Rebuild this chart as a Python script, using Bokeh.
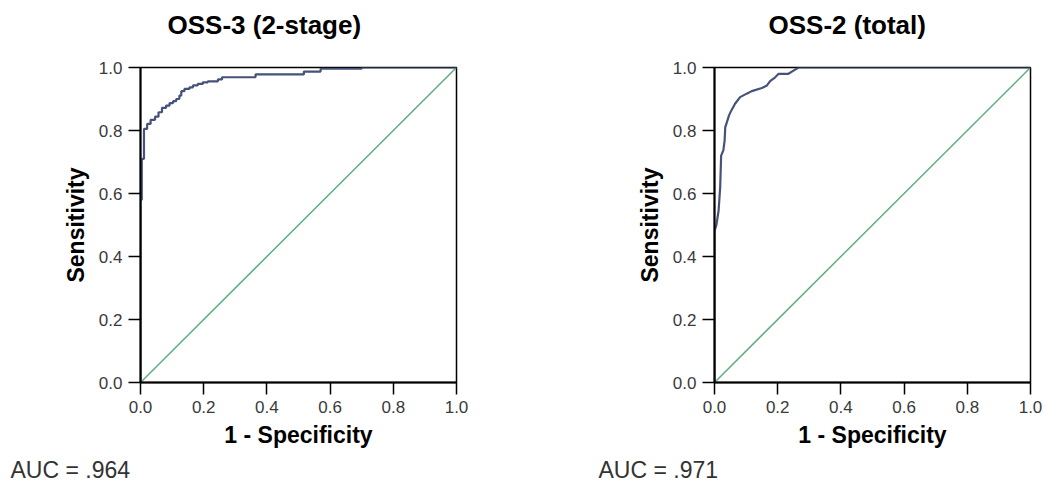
from bokeh.plotting import figure
from bokeh.layouts import row
from bokeh.models import FixedTicker, Range1d, Title
from bokeh.embed import file_html
from bokeh.resources import INLINE

# ---------------- data ----------------
titles = ["OSS-3 (2-stage)", "OSS-2 (total)"]
auc_labels = ["AUC = .964", "AUC = .971"]

tick_values = [0.0, 0.2, 0.4, 0.6, 0.8, 1.0]
tick_labels = ["0.0", "0.2", "0.4", "0.6", "0.8", "1.0"]

# OSS-3 (2-stage) ROC curve vertices
fpr_oss3 = [0.0, 0.0, 0.004, 0.004, 0.011, 0.011, 0.021, 0.021, 0.032, 0.032,
            0.046, 0.046, 0.057, 0.057, 0.068, 0.068, 0.081, 0.081, 0.092, 0.092,
            0.103, 0.103, 0.113, 0.113, 0.123, 0.123, 0.129, 0.129, 0.139, 0.139,
            0.155, 0.155, 0.166, 0.166, 0.181, 0.181, 0.197, 0.197, 0.213, 0.213,
            0.245, 0.245, 0.258, 0.258, 0.364, 0.364, 0.517, 0.517, 0.57, 0.57,
            0.70, 0.70, 1.0]
tpr_oss3 = [0.0, 0.58, 0.58, 0.71, 0.71, 0.805, 0.805, 0.821, 0.821, 0.834,
            0.834, 0.844, 0.844, 0.858, 0.858, 0.872, 0.872, 0.879, 0.879, 0.887,
            0.887, 0.893, 0.893, 0.900, 0.900, 0.911, 0.911, 0.925, 0.925, 0.932,
            0.932, 0.937, 0.937, 0.943, 0.943, 0.948, 0.948, 0.953, 0.953, 0.956,
            0.956, 0.962, 0.962, 0.969, 0.969, 0.978, 0.978, 0.987, 0.987, 0.996,
            0.996, 1.0, 1.0]

# OSS-2 (total) ROC curve vertices
fpr_oss2 = [0.0, 0.0, 0.006, 0.013, 0.018, 0.021, 0.028, 0.032, 0.034, 0.039,
            0.046, 0.053, 0.065, 0.081, 0.102, 0.118, 0.150, 0.166, 0.176, 0.192,
            0.203, 0.234, 0.250, 0.266, 1.0]
tpr_oss2 = [0.0, 0.48, 0.50, 0.546, 0.62, 0.72, 0.737, 0.768, 0.81, 0.826,
            0.848, 0.863, 0.885, 0.906, 0.917, 0.925, 0.935, 0.943, 0.957, 0.969,
            0.980, 0.980, 0.990, 1.0, 1.0]

ref_line = [0.0, 1.0]

curves = [(fpr_oss3, tpr_oss3), (fpr_oss2, tpr_oss2)]

# ---------------- styling ----------------
FONT = "Liberation Sans"
CURVE_COLOR = "#46527a"
REF_COLOR = "#5fae7f"


def make_panel(title, fpr, tpr, auc, border_left, border_right, title_offset, auc_offset):
    p = figure(width=523, height=491, output_backend="svg", toolbar_location=None,
               x_range=Range1d(0, 1), y_range=Range1d(0, 1),
               min_border_left=border_left, min_border_right=border_right,
               min_border_top=67, min_border_bottom=109,
               background_fill_color="white", border_fill_color="white")
    p.outline_line_color = "black"
    p.outline_line_width = 1.5
    p.grid.visible = False

    p.title.text = title
    p.title.align = "left"
    p.title.offset = title_offset
    p.title.text_font = FONT
    p.title.text_font_size = "26px"
    p.title.text_font_style = "bold"
    p.title.text_color = "black"

    # empty spacer between the frame and the title
    spacer = Title(text=" ", text_font=FONT, text_font_size="19px", standoff=0)
    p.add_layout(spacer, "above")

    for ax in (p.xaxis[0], p.yaxis[0]):
        ax.ticker = FixedTicker(ticks=tick_values)
        ax.major_label_overrides = {v: l for v, l in zip(tick_values, tick_labels)}
        ax.minor_tick_line_color = None
        ax.major_tick_in = 0
        ax.major_tick_out = 12
        ax.major_tick_line_color = "black"
        ax.major_tick_line_width = 1.5
        ax.axis_line_color = "black"
        ax.axis_line_width = 2
        ax.major_label_text_font = FONT
        ax.major_label_text_font_size = "17px"
        ax.major_label_text_color = "#3a3a3a"
        ax.axis_label_text_font = FONT
        ax.axis_label_text_font_size = "23px"
        ax.axis_label_text_font_style = "bold"
        ax.axis_label_text_color = "black"

    p.xaxis.axis_label = "1 - Specificity"
    p.yaxis.axis_label = "Sensitivity"
    p.xaxis.major_label_standoff = 6
    p.yaxis.major_label_standoff = 6
    p.xaxis.axis_label_standoff = 6
    p.yaxis.axis_label_standoff = 7

    p.line(ref_line, ref_line, line_color=REF_COLOR, line_width=1.5)
    p.line(fpr, tpr, line_color=CURVE_COLOR, line_width=2.2)

    auc_title = Title(text=auc, align="left", offset=auc_offset,
                      text_font=FONT, text_font_size="23px",
                      text_font_style="normal", text_color="#333333", standoff=8)
    p.add_layout(auc_title, "below")
    return p


left = make_panel(titles[0], curves[0][0], curves[0][1], auc_labels[0],
                  140, 67, 27, -130)
right = make_panel(titles[1], curves[1][0], curves[1][1], auc_labels[1],
                   191, 16, 54, -116)

layout = row(left, right, spacing=0)
open("out.html", "w").write(file_html(layout, INLINE))
